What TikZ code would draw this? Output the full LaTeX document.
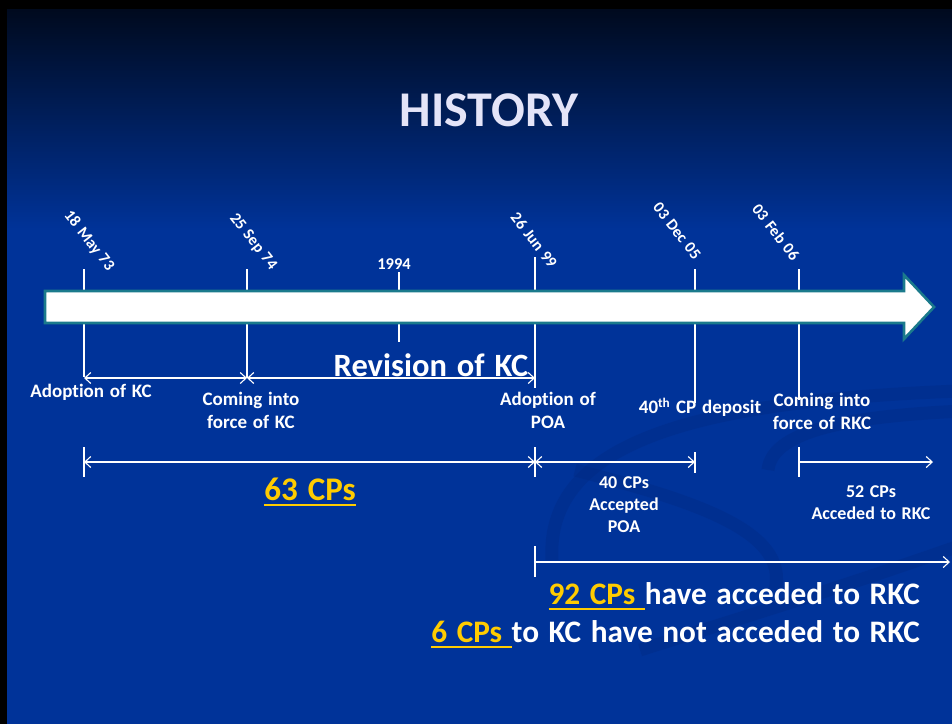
\documentclass[tikz,border=0pt]{standalone}
\usepackage{fontspec}
\setmainfont[Ligatures=NoCommon,WordSpace=1.35]{Carlito}
\usepackage{tikz}
\usetikzlibrary{arrows.meta}

\definecolor{fond}{HTML}{003399}
\definecolor{fondhaut}{HTML}{000A1E}
\definecolor{bord}{HTML}{1B7A8C}
\definecolor{jaune}{HTML}{FFCC00}
\definecolor{titre}{HTML}{E4E4F8}
\definecolor{vague}{HTML}{00287E}

\newcommand\souligne[1]{\leavevmode\setbox0\hbox{#1}\rlap{\rule[-6pt]{\wd0}{2.4pt}}\box0}
\newcommand\taille[1]{\fontsize{#1}{1.22\dimexpr#1pt\relax}\selectfont}

\begin{document}
\begin{tikzpicture}[x=1pt,y=-1pt]
    \newcommand\jalon[4]{\coordinate (#1h) at (#2,#3); \coordinate (#1b) at (#2,#4);
                         \draw[tk] (#1h) -- (#1b);}
    \tikzstyle{tk}=[white,line width=1.1pt]
    \tikzstyle{span}=[white,line width=1.1pt,>={Straight Barb[length=6pt,width=11pt]}]
    \tikzstyle{date}=[text=white,inner sep=0pt,rotate=-52,font=\bfseries\taille{16}]
    \tikzstyle{lbl}=[text=white,inner sep=0pt,align=center,font=\bfseries\taille{19}]
    \tikzstyle{big}=[text=white,inner sep=0pt,font=\bfseries\taille{31.3}]
    \tikzstyle{vaguest}=[vague,line width=13pt,opacity=.3]
    \useasboundingbox (0,0) rectangle (952,724);
    % fond
    \fill[black] (0,0) rectangle (952,724);
    \shade[top color=fondhaut,bottom color=fond] (7,9) rectangle (952,230);
    \fill[fond] (7,230) rectangle (952,724);
    \begin{scope}
      \clip (7,230) rectangle (952,724);
      \draw[vaguest] (552,560) .. controls (545,440) and (700,398) .. (990,390);
      \draw[vaguest] (768,470) .. controls (772,428) and (860,414) .. (990,410);
      \draw[vaguest] (575,470) .. controls (690,500) and (790,530) .. (775,590);
      \draw[vaguest] (640,650) .. controls (750,615) and (850,585) .. (990,535);
    \end{scope}
    \node[text=titre,font=\bfseries\taille{50}] at (489,110) (titre) {HISTORY};
    % jalons
    \jalon{mai73}{84}{269}{377}\jalon{sep74}{247}{269}{378}\jalon{an94}{399}{272}{342}
    \jalon{jun99}{535}{257}{388}\jalon{dec05}{695}{269}{403}\jalon{fev06}{799}{269}{400}
    \jalon{g63}{84}{447}{477}\jalon{g40}{535}{447}{477}\jalon{d40}{695}{452}{473}
    \jalon{g52}{799}{447}{477}\jalon{g92}{535}{546}{577}
    % fleche du temps
    \draw[bord,line width=2.6pt,fill=white,line join=miter]
      (45,291) -- (904,291) -- (904,275) -- (934,307) -- (904,339) -- (904,323) -- (45,323) -- cycle;
    \node[date] at (89,241) (dmai73) {18 May 73};
    \node[date] at (253,242) (dsep74) {25 Sep 74};
    \node[text=white,inner sep=0pt,font=\bfseries\taille{16.5}] at (394,264) (d94) {1994};
    \node[date] at (534,240) (djun99) {26 Jun 99};
    \node[date] at (677,231) (ddec05) {03 Dec 05};
    \node[date] at (776,232) (dfev06) {03 Feb 06};
    % evenements
    \node[lbl] at (91,392) (adkc) {Adoption of KC};
    \node[lbl] at (251,410) (forcekc) {Coming into\\force of KC};
    \node[big,font=\bfseries\taille{32.5}] at (431,365) (rev) {Revision of KC};
    \node[lbl] at (548,410) (adpoa) {Adoption of\\POA};
    \node[lbl] at (700,407) (dep) {40\textsuperscript{th} CP deposit};
    \node[lbl] at (822,411) (forcerkc) {Coming into\\force of RKC};
    % periodes
    \coordinate (r1) at (84,378); \coordinate (r2) at (247,378); \coordinate (r3) at (535,378);
    \coordinate (p1) at (84,462); \coordinate (p2) at (535,462); \coordinate (p3) at (695,462);
    \coordinate (p4) at (799,462); \coordinate (p5) at (933,462);
    \coordinate (q1) at (535,562); \coordinate (q2) at (950,562);
    \draw[span,<->] (r1) -- (r2); \draw[span,<->] (r2) -- (r3);
    \draw[span,<->] (p1) -- (p2); \draw[span,<->] (p2) -- (p3);
    \draw[span,->] (p4) -- (p5); \draw[span,->] (q1) -- (q2);
    \node[big,text=jaune,anchor=base,font=\bfseries\taille{33}] at (310,500) (cp63) {\souligne{63 CPs}};
    \node[lbl,font=\bfseries\taille{18}] at (624,505) (cp40) {40 CPs\\Accepted\\POA};
    \node[lbl,font=\bfseries\taille{18}] at (871,503) (cp52) {52 CPs\\Acceded to RKC};
    \node[big,anchor=base east] at (920,604) (cp92)
      {\textcolor{jaune}{\souligne{92 CPs\ }}have acceded to RKC};
    \node[big,anchor=base east] at (920,642) (cp6)
      {\textcolor{jaune}{\souligne{6 CPs\ }}to KC have not acceded to RKC};
\end{tikzpicture}
\end{document}
